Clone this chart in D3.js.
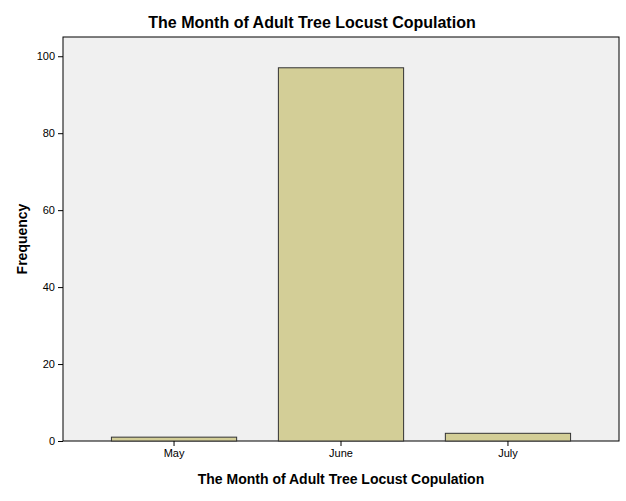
<!DOCTYPE html>
<html><head><meta charset="utf-8">
<script src="https://cdn.jsdelivr.net/npm/d3@7"></script>
<style>body{margin:0;background:#fff}svg{display:block;font-family:Arial,"Liberation Sans",sans-serif}</style>
</head><body>
<script>
// data
const months = ["May", "June", "July"];
const counts = [1, 97, 2];
const yTicks = [0, 20, 40, 60, 80, 100];

const W = 626, H = 501;
const m = {top: 37, right: 7, bottom: 60, left: 63};

const svg = d3.select("body").append("svg").attr("width", W).attr("height", H);

const x = d3.scaleBand().domain(months).range([m.left, W - m.right])
	.paddingInner(0.25).paddingOuter(0.29);
const y = d3.scaleLinear().domain([0, 105]).range([H - m.bottom, m.top]);

//plot background
svg.append("rect")
	.attr("x", m.left).attr("y", m.top)
	.attr("width", W - m.left - m.right).attr("height", H - m.top - m.bottom)
	.attr("fill", "#f0f0f0").attr("stroke", "#000").attr("stroke-width", 1);

//bars
svg.selectAll(".bar").data(counts).enter().append("rect")
	.attr("class", "bar")
	.attr("x", (d, i) => x(months[i]))
	.attr("y", d => y(d))
	.attr("width", x.bandwidth())
	.attr("height", d => y(0) - y(d))
	.attr("fill", "#d3ce97")
	.attr("stroke", "#333").attr("stroke-width", 1);

//axes
const yAxis = svg.append("g").attr("transform", `translate(${m.left},0)`)
	.call(d3.axisLeft(y).tickValues(yTicks).tickSize(5).tickSizeOuter(0));
const xAxis = svg.append("g").attr("transform", `translate(0,${H - m.bottom})`)
	.call(d3.axisBottom(x).tickSize(5).tickSizeOuter(0));
[yAxis, xAxis].forEach(a => {
	a.select(".domain").remove();
	a.selectAll("text").style("font-size", "11px").attr("fill", "#000")
		.style("font-family", "Arial, 'Liberation Sans', sans-serif");
	a.selectAll("line").attr("stroke", "#000");
});

//title & labels
svg.append("text").attr("x", 312).attr("y", 28).attr("text-anchor", "middle")
	.style("font-size", "16px").style("font-weight", "bold")
	.text("The Month of Adult Tree Locust Copulation");
svg.append("text").attr("x", (m.left + W - m.right) / 2).attr("y", 484).attr("text-anchor", "middle")
	.style("font-size", "14px").style("font-weight", "bold")
	.text("The Month of Adult Tree Locust Copulation");
svg.append("text").attr("transform", `translate(27,${(m.top + H - m.bottom) / 2}) rotate(-90)`)
	.attr("text-anchor", "middle")
	.style("font-size", "14px").style("font-weight", "bold")
	.text("Frequency");
</script>
</body></html>
